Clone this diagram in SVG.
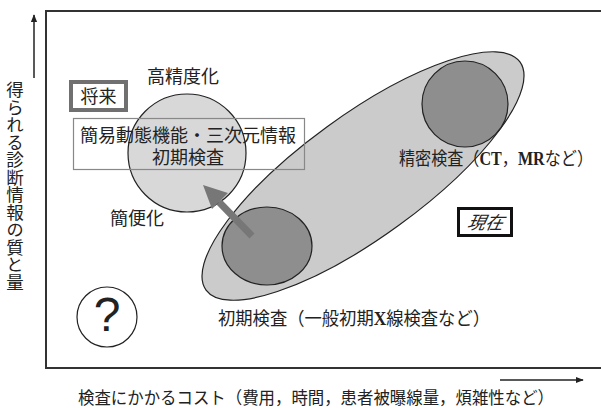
<svg xmlns="http://www.w3.org/2000/svg" width="601" height="408" viewBox="0 0 601 408">
<defs>
<style>
.jp{font-family:"Noto Sans CJK JP","Liberation Serif",serif;fill:#222;}
.lat{font-family:"Liberation Serif","Noto Sans CJK JP",serif;font-weight:bold;}
.ol{stroke:#222;stroke-width:1.2;}
</style>
<marker id="ah" viewBox="0 0 10 10" refX="9" refY="5" markerWidth="8" markerHeight="8" markerUnits="userSpaceOnUse" orient="auto">
<path d="M0,1 L10,5 L0,9 Z" fill="#222"/>
</marker>
</defs>
<rect width="601" height="408" fill="#fff"/>
<g id="frame">
<path d="M601,11 H46 V368 H601" fill="none" stroke="#333" stroke-width="2"/>
</g>
<g id="axes">
<line x1="34" y1="78" x2="34" y2="15" stroke="#222" stroke-width="1.5" marker-end="url(#ah)"/>
<line x1="500" y1="380" x2="583" y2="380" stroke="#222" stroke-width="1.5" marker-end="url(#ah)"/>
<text class="jp" x="15" y="81" font-size="17.5" writing-mode="vertical-rl">得られる診断情報の質と量</text>
<text class="jp" x="78" y="404" font-size="17" textLength="476" lengthAdjust="spacingAndGlyphs">検査にかかるコスト（費用，時間，患者被曝線量，煩雑性など）</text>
</g>
<g id="current-region">
<ellipse cx="363" cy="176" rx="194" ry="61" transform="rotate(-36 363 176)" fill="#cbcbcb" class="ol"/>
</g>
<g id="precise-exam">
<circle cx="465" cy="104" r="43" fill="#8e8e8e" class="ol"/>
<text class="jp" x="399" y="165" font-size="18" textLength="194" lengthAdjust="spacingAndGlyphs">精密検査（<tspan class="lat">CT</tspan>，<tspan class="lat">MR</tspan>など）</text>
</g>
<g id="initial-exam">
<ellipse cx="267" cy="246" rx="45" ry="39" fill="#8e8e8e" class="ol"/>
<text class="jp" x="218" y="325" font-size="18" textLength="272" lengthAdjust="spacingAndGlyphs">初期検査（一般初期<tspan class="lat">X</tspan>線検査など）</text>
</g>
<g id="future-exam">
<circle cx="187" cy="153" r="59" fill="#d8d8d8" class="ol"/>
<rect x="73.5" y="118.5" width="231" height="51" fill="none" stroke="#888" stroke-width="1.2"/>
<text class="jp" x="188" y="142" font-size="18" text-anchor="middle">簡易動態機能・三次元情報</text>
<text class="jp" x="188" y="164" font-size="18" text-anchor="middle">初期検査</text>
<text class="jp" x="147" y="83" font-size="18">高精度化</text>
<text class="jp" x="110" y="225" font-size="18">簡便化</text>
</g>
<g id="label-future">
<rect x="71" y="82" width="55" height="28" fill="#fff" stroke="#707070" stroke-width="4"/>
<text class="jp" x="98.5" y="103" font-size="18" text-anchor="middle">将来</text>
</g>
<g id="label-current">
<rect x="458.5" y="208.5" width="53" height="27" fill="#fff" stroke="#111" stroke-width="3"/>
<text class="jp" x="485" y="229" font-size="18" text-anchor="middle" font-style="italic" transform="skewX(-12) translate(48 0)">現在</text>
</g>
<g id="unknown">
<circle cx="107" cy="317" r="30" fill="#fff" class="ol"/>
<text x="107" y="331" font-size="48" text-anchor="middle" font-family="Liberation Sans, Arial, sans-serif" fill="#222">?</text>
</g>
<g id="connectors">
<line x1="252" y1="236" x2="219" y2="202" stroke="#777" stroke-width="7"/>
<path d="M203,185 L228,193 L219,202 L212,209 Z" fill="#777"/>
</g>
</svg>
